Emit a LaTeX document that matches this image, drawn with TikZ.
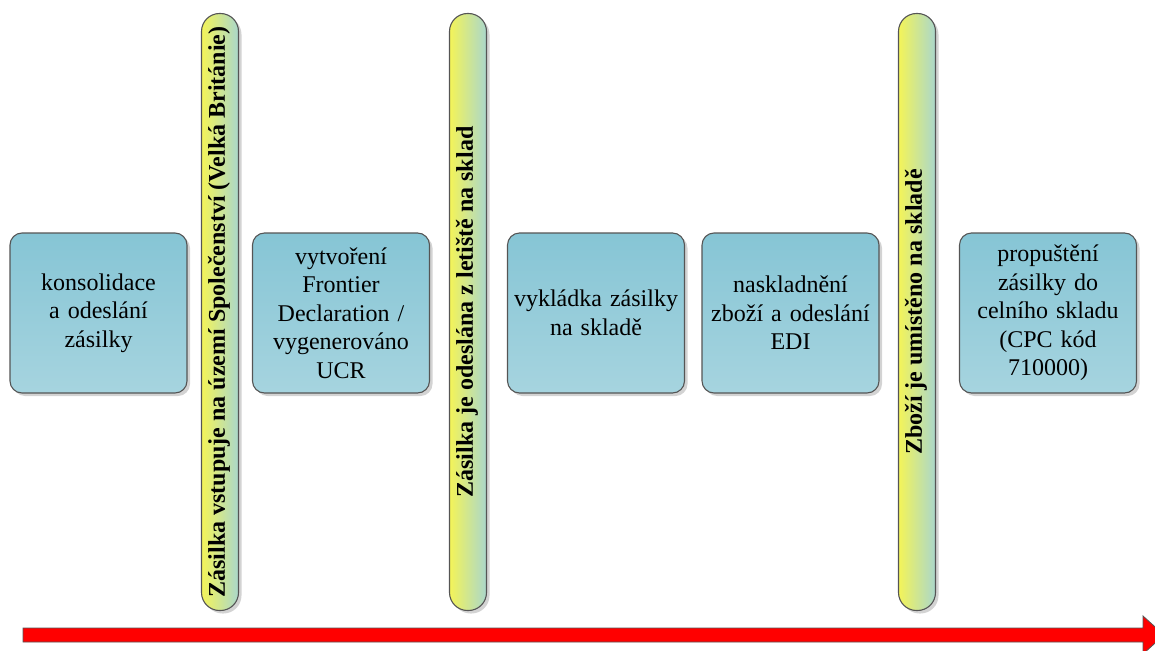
\documentclass[tikz,border=0pt]{standalone}
\usepackage{fontspec}
\setmainfont{Liberation Serif}
\usepackage{tikz}
\usetikzlibrary{shadows,positioning}
\definecolor{kastenoben}{RGB}{134,197,213}
\definecolor{kastenunten}{RGB}{166,212,223}
\definecolor{balkengelb}{RGB}{244,244,88}
\definecolor{balkenmitte}{RGB}{228,238,104}
\definecolor{balkenblau}{RGB}{170,215,204}
\definecolor{rahmen}{RGB}{85,85,85}
\definecolor{pfeilrot}{RGB}{255,0,0}
\tikzset{
  kasten/.style={draw=rahmen,line width=1.1pt,rounded corners=12pt,top color=kastenoben,bottom color=kastenunten,
    minimum width=177pt,minimum height=160pt,text width=175pt,align=center,inner sep=0pt,
    font=\fontsize{24}{28.5}\selectfont,drop shadow={shadow xshift=3pt,shadow yshift=-3pt,opacity=0.35}},
  balken/.style={draw=rahmen,line width=1.1pt,rounded corners=18pt,left color=balkengelb,middle color=balkenmitte,right color=balkenblau,
    minimum width=37pt,minimum height=597pt,inner sep=0pt,drop shadow={shadow xshift=3pt,shadow yshift=-3pt,opacity=0.35}},
  balkentext/.style={rotate=90,font=\bfseries\fontsize{24}{26}\selectfont,inner sep=0pt}
}
\begin{document}
\begin{tikzpicture}[x=1pt,y=-1pt]
  \useasboundingbox (0,0) rectangle (1155,650);
  \pgfmathsetmacro{\yMitte}{313}
%Zeitachse
  \draw[rahmen,line width=0.8pt,fill=pfeilrot] (23,628) -- (1143,628) -- (1143,616) -- (1164,635) -- (1143,654) -- (1143,642) -- (23,642) -- cycle;
%Balken
  \foreach \x/\name/\txt in {220/b1/Zásilka vstupuje na území Společenství (Velká Británie),
                             468/b2/Zásilka je odeslána z letiště na sklad,
                             917/b3/Zboží je umístěno na skladě}{
    \node[balken] (\name) at (\x,312) {};
    \node[balkentext] (\name t) at ([xshift=-1pt]\name.center) {\txt};
  }
%Kaesten
  \node[kasten] (k1) at (98.5,\yMitte) {konsolidace\\a odeslání\\zásilky};
  \node[kasten] (k2) at (341,\yMitte) {vytvoření\\Frontier\\Declaration /\\vygenerováno\\UCR};
  \node[kasten] (k3) at (596,\yMitte) {vykládka zásilky\\na skladě};
  \node[kasten] (k4) at (790.5,\yMitte) {naskladnění\\zboží a odeslání\\EDI};
  \node[kasten] (k5) at (1048,\yMitte) {propuštění\\zásilky do\\celního skladu\\(CPC kód\\710000)};
\end{tikzpicture}
\end{document}
